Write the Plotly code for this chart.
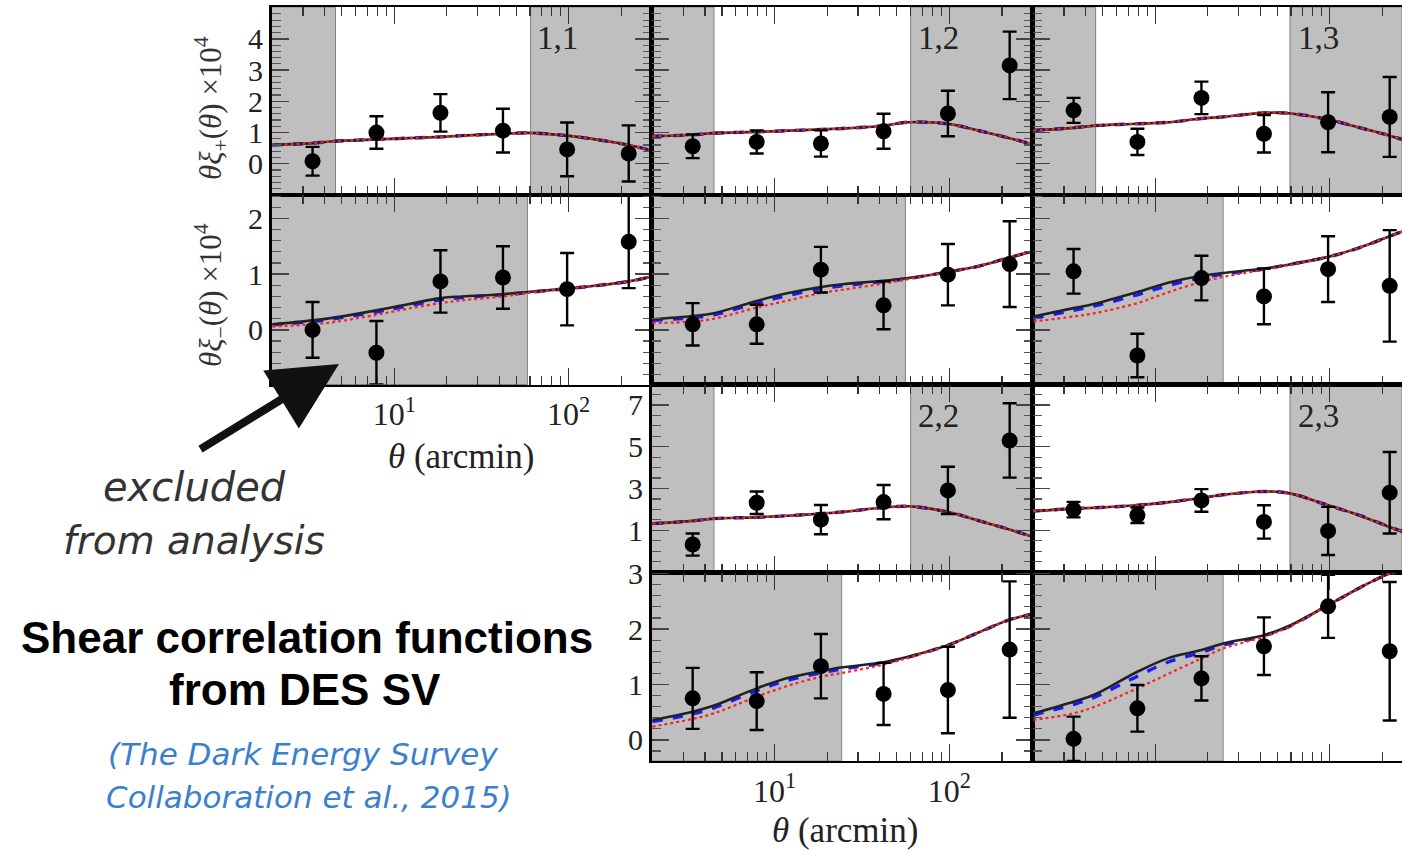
import math
import plotly.graph_objects as go

W, H = 1402, 851

# ---------------- data (theta * xi x 1e4) ----------------
theta = [3.4, 7.9, 18.4, 42.0, 98.0, 221.0]
theta_model = [2.0, 3.4, 4.5, 7.9, 12.0, 18.4, 24.5, 42.0, 58.0, 98.0, 150.0, 221.0, 310.0]

# xi_plus measurements
xip_11 = [0.08, 1.00, 1.63, 1.06, 0.46, 0.33]
xip_11_err = [0.46, 0.52, 0.60, 0.70, 0.86, 0.90]
xip_12 = [0.56, 0.70, 0.65, 1.04, 1.61, 3.15]
xip_12_err = [0.38, 0.37, 0.42, 0.56, 0.73, 1.08]
xip_13 = [1.71, 0.70, 2.11, 0.96, 1.33, 1.50]
xip_13_err = [0.40, 0.42, 0.52, 0.60, 0.96, 1.28]
xip_22 = [0.32, 2.32, 1.51, 2.35, 2.91, 5.30]
xip_22_err = [0.53, 0.54, 0.70, 0.82, 1.13, 1.78]
xip_23 = [1.99, 1.72, 2.43, 1.40, 0.97, 2.80]
xip_23_err = [0.37, 0.37, 0.54, 0.80, 1.15, 1.95]

# xi_minus measurements
xim_11 = [0.00, -0.41, 0.87, 0.94, 0.73, 1.58]
xim_11_err = [0.50, 0.57, 0.56, 0.56, 0.65, 0.83]
xim_12 = [0.10, 0.10, 1.08, 0.44, 0.99, 1.18]
xim_12_err = [0.38, 0.35, 0.41, 0.43, 0.55, 0.77]
xim_13 = [1.05, -0.46, 0.93, 0.60, 1.09, 0.79]
xim_13_err = [0.40, 0.39, 0.40, 0.50, 0.59, 1.00]
xim_22 = [0.75, 0.70, 1.33, 0.83, 0.90, 1.63]
xim_22_err = [0.55, 0.52, 0.58, 0.56, 0.78, 1.23]
xim_23 = [0.02, 0.57, 1.11, 1.69, 2.41, 1.60]
xim_23_err = [0.40, 0.42, 0.40, 0.52, 0.57, 1.25]

# model curves: xi_plus (black, blue and red nearly identical)
mp_11 = [0.60, 0.66, 0.72, 0.78, 0.82, 0.86, 0.90, 0.96, 0.99, 0.90, 0.76, 0.60, 0.40]
mp_12 = [0.88, 0.93, 0.98, 1.02, 1.06, 1.10, 1.13, 1.22, 1.33, 1.28, 1.05, 0.82, 0.60]
mp_13 = [1.07, 1.15, 1.22, 1.28, 1.33, 1.45, 1.50, 1.63, 1.62, 1.42, 1.15, 0.90, 0.65]
mp_22 = [1.32, 1.45, 1.56, 1.62, 1.70, 1.80, 1.88, 2.09, 2.15, 1.88, 1.44, 1.04, 0.65]
mp_23 = [1.92, 2.04, 2.08, 2.20, 2.35, 2.55, 2.70, 2.86, 2.78, 2.20, 1.70, 1.16, 0.72]

# model curves: xi_minus, black solid
mm_11 = [0.10, 0.17, 0.22, 0.35, 0.46, 0.57, 0.60, 0.64, 0.68, 0.74, 0.80, 0.87, 0.97]
mm_12 = [0.19, 0.25, 0.30, 0.52, 0.66, 0.77, 0.82, 0.88, 0.93, 1.04, 1.15, 1.30, 1.42]
mm_13 = [0.24, 0.39, 0.47, 0.68, 0.85, 0.97, 1.02, 1.10, 1.17, 1.31, 1.48, 1.68, 1.85]
mm_22 = [0.36, 0.51, 0.62, 0.93, 1.12, 1.24, 1.31, 1.40, 1.50, 1.71, 1.95, 2.17, 2.28]
mm_23 = [0.48, 0.69, 0.82, 1.23, 1.48, 1.62, 1.74, 1.89, 2.05, 2.43, 2.75, 3.00, 3.10]
# xi_minus, blue dashed
bm_11 = [0.09, 0.15, 0.20, 0.32, 0.43, 0.54, 0.58, 0.63, 0.67, 0.74, 0.80, 0.87, 0.97]
bm_12 = [0.17, 0.22, 0.27, 0.48, 0.62, 0.74, 0.79, 0.87, 0.92, 1.04, 1.15, 1.30, 1.42]
bm_13 = [0.21, 0.35, 0.43, 0.63, 0.80, 0.94, 1.00, 1.09, 1.17, 1.31, 1.48, 1.68, 1.85]
bm_22 = [0.33, 0.47, 0.58, 0.89, 1.08, 1.21, 1.28, 1.39, 1.49, 1.71, 1.95, 2.17, 2.28]
bm_23 = [0.45, 0.64, 0.77, 1.15, 1.41, 1.58, 1.71, 1.88, 2.04, 2.43, 2.75, 3.00, 3.10]
# xi_minus, red dotted
rm_11 = [0.06, 0.10, 0.14, 0.27, 0.38, 0.48, 0.53, 0.60, 0.66, 0.74, 0.80, 0.87, 0.97]
rm_12 = [0.12, 0.15, 0.20, 0.40, 0.53, 0.66, 0.72, 0.83, 0.91, 1.04, 1.15, 1.30, 1.42]
rm_13 = [0.15, 0.24, 0.30, 0.48, 0.68, 0.86, 0.95, 1.08, 1.16, 1.31, 1.48, 1.68, 1.85]
rm_22 = [0.24, 0.38, 0.48, 0.78, 0.98, 1.14, 1.21, 1.36, 1.48, 1.71, 1.95, 2.17, 2.28]
rm_23 = [0.36, 0.48, 0.60, 0.93, 1.20, 1.47, 1.65, 1.86, 2.03, 2.43, 2.75, 3.00, 3.10]

# excluded angular ranges (arcmin): below cut_lo and above cut_hi
cut_lo = {"p11": 4.6, "p12": 4.5, "p13": 4.55, "p22": 4.5, "p23": None,
          "m11": 58.0, "m12": 56.0, "m13": 24.5, "m22": 24.2, "m23": 24.5}
cut_hi = {"p11": 60.5, "p12": 60.0, "p13": 59.2, "p22": 60.0, "p23": 59.2,
          "m11": None, "m12": None, "m13": None, "m22": None, "m23": None}

bin_labels = {"p11": "1,1", "p12": "1,2", "p13": "1,3", "p22": "2,2", "p23": "2,3"}

x_major = [10, 100]
x_major_text = ["10<sup>1</sup>", "10<sup>2</sup>"]
x_minor = [2, 3, 4, 5, 6, 7, 8, 9, 20, 30, 40, 50, 60, 70, 80, 90, 200, 300]

row_ticks = [[0, 1, 2, 3, 4], [0, 1, 2], [1, 3, 5, 7], [0, 1, 2, 3]]

# ---------------- layout geometry (pixels) ----------------
col_px = [(271.5, 651.5), (651.5, 1032.5), (1032.5, 1402.0)]
row_px = [(7.0, 195.0), (195.0, 384.5), (384.5, 572.5), (572.5, 761.0)]
col_xrange = [[0.296, 2.475], [0.296, 2.475], [0.296, 2.415]]
row_yrange = [[-1.0, 5.02], [-0.98, 2.42], [-1.02, 7.98], [-0.38, 3.02]]
row_minor = [0.2, 0.2, 0.5, 0.2]

panels = [
    ("p11", 0, 0, xip_11, xip_11_err, mp_11, mp_11, mp_11),
    ("p12", 0, 1, xip_12, xip_12_err, mp_12, mp_12, mp_12),
    ("p13", 0, 2, xip_13, xip_13_err, mp_13, mp_13, mp_13),
    ("m11", 1, 0, xim_11, xim_11_err, mm_11, bm_11, rm_11),
    ("m12", 1, 1, xim_12, xim_12_err, mm_12, bm_12, rm_12),
    ("m13", 1, 2, xim_13, xim_13_err, mm_13, bm_13, rm_13),
    ("p22", 2, 1, xip_22, xip_22_err, mp_22, mp_22, mp_22),
    ("p23", 2, 2, xip_23, xip_23_err, mp_23, mp_23, mp_23),
    ("m22", 3, 1, xim_22, xim_22_err, mm_22, bm_22, rm_22),
    ("m23", 3, 2, xim_23, xim_23_err, mm_23, bm_23, rm_23),
]

SERIF = "Liberation Serif"
fig = go.Figure()
layout = dict(
    width=W, height=H, margin=dict(l=0, r=0, t=0, b=0, pad=0, autoexpand=False),
    paper_bgcolor="white", plot_bgcolor="white", showlegend=False,
)
shapes = []
annotations = []


def px2paper(x, y):
    return x / W, 1 - y / H


for i, (key, r, c, yv, ev, blk, blu, red) in enumerate(panels, start=1):
    suffix = "" if i == 1 else str(i)
    xa, ya = "x" + suffix, "y" + suffix
    xname, yname = "xaxis" + suffix, "yaxis" + suffix
    x0p, x1p = col_px[c]
    y0p, y1p = row_px[r]
    show_x_labels = (key == "m11") or (key == "m22")
    show_y_labels = (c == 0) or (r >= 2 and c == 1)
    layout[xname] = dict(
        type="log", domain=[x0p / W, x1p / W], range=col_xrange[c], anchor=ya,
        showgrid=False, zeroline=False, showline=True, linecolor="black", linewidth=2.4,
        mirror="allticks", ticks="inside", ticklen=17, tickwidth=1.3, tickcolor="#333",
        tickmode="array", tickvals=x_major, ticktext=x_major_text,
        showticklabels=show_x_labels,
        tickfont=dict(family=SERIF, size=32, color="#222"),
        minor=dict(tickmode="array", tickvals=x_minor, ticks="inside", ticklen=9,
                   tickwidth=1.2, tickcolor="#333", showgrid=False),
    )
    layout[yname] = dict(
        domain=[1 - y1p / H, 1 - y0p / H], range=row_yrange[r], anchor=xa,
        showgrid=False, zeroline=False, showline=True, linecolor="black", linewidth=2.4,
        mirror=("allticks" if c < 2 else False), ticks="inside", ticklen=17,
        tickwidth=1.3, tickcolor="#444",
        tickmode="array", tickvals=row_ticks[r], showticklabels=show_y_labels,
        tickfont=dict(family=SERIF, size=30, color="#222"),
        minor=dict(tickmode="linear", tick0=0, dtick=row_minor[r], ticks="inside",
                   ticklen=9, tickwidth=1.2, tickcolor="#555", showgrid=False),
    )
    # excluded-scale shading (shape x positions given in data units)
    lo, hi = cut_lo[key], cut_hi[key]
    xr = col_xrange[c]
    if lo is not None:
        shapes.append(dict(type="rect", xref=xa, yref=f"{ya} domain", layer="below",
                           x0=10 ** xr[0], x1=lo, y0=0, y1=1,
                           fillcolor="#bfbfbf", line=dict(color="#808080", width=1)))
    if hi is not None:
        shapes.append(dict(type="rect", xref=xa, yref=f"{ya} domain", layer="below",
                           x0=hi, x1=10 ** xr[1], y0=0, y1=1,
                           fillcolor="#bfbfbf", line=dict(color="#808080", width=1)))
    # model curves
    fig.add_trace(go.Scatter(x=theta_model, y=blu, xaxis=xa, yaxis=ya, mode="lines",
                             line=dict(color="#1a1aff", width=3.4, dash="dash", shape="spline"),
                             hoverinfo="skip"))
    fig.add_trace(go.Scatter(x=theta_model, y=blk, xaxis=xa, yaxis=ya, mode="lines",
                             line=dict(color="#222222", width=2.6, shape="spline"),
                             hoverinfo="skip"))
    fig.add_trace(go.Scatter(x=theta_model, y=red, xaxis=xa, yaxis=ya, mode="lines",
                             line=dict(color="#ff2020", width=2.2, dash="dot", shape="spline"),
                             hoverinfo="skip"))
    # measurements
    fig.add_trace(go.Scatter(x=theta, y=yv, xaxis=xa, yaxis=ya, mode="markers",
                             marker=dict(color="black", size=16),
                             error_y=dict(type="data", array=ev, color="black",
                                          thickness=2.4, width=7),
                             cliponaxis=True))
    if key in bin_labels:
        lx = x1p - 94 if c < 2 else 1318
        ly = y0p + 31
        ax_, ay_ = px2paper(lx, ly)
        annotations.append(dict(x=ax_, y=ay_, xref="paper", yref="paper",
                                text=bin_labels[key], showarrow=False,
                                font=dict(family=SERIF, size=33, color="#222"),
                                xanchor="center", yanchor="middle"))


def add_text(x, y, text, size, family, color="#111", angle=0, style="normal", weight="normal"):
    px_, py_ = px2paper(x, y)
    annotations.append(dict(x=px_, y=py_, xref="paper", yref="paper", text=text,
                            showarrow=False, textangle=angle, xanchor="center",
                            yanchor="middle",
                            font=dict(family=family, size=size, color=color,
                                      style=style, weight=weight)))


# axis titles
add_text(211, 108, "<i>θξ</i><sub>+</sub>(<i>θ</i>) ×10<sup>4</sup>", 31, SERIF, "#333", angle=-90)
add_text(211, 295, "<i>θξ</i><sub>−</sub>(<i>θ</i>) ×10<sup>4</sup>", 31, SERIF, "#333", angle=-90)
add_text(461, 457, "<i>θ</i> (arcmin)", 35, SERIF, "#222")
add_text(845, 830, "<i>θ</i> (arcmin)", 35, SERIF, "#222")

# side texts
SANS_LIGHT = "DejaVu Sans"
add_text(194, 487, "excluded", 40, SANS_LIGHT, "#333", style="italic", weight=200)
add_text(194, 540, "from analysis", 39, SANS_LIGHT, "#333", style="italic", weight=200)
add_text(307, 637, "Shear correlation functions", 44, "Liberation Sans", "#000", weight="bold")
add_text(305, 689, "from DES SV", 44, "Liberation Sans", "#000", weight="bold")
add_text(303, 754, "(The Dark Energy Survey", 31, SANS_LIGHT, "#3a80cc", style="italic", weight=200)
add_text(309, 797, "Collaboration et al., 2015)", 31, SANS_LIGHT, "#3a80cc", style="italic", weight=200)

# arrow pointing at the excluded region
tip_x, tip_y = px2paper(339, 364)
annotations.append(dict(x=tip_x, y=tip_y, xref="paper", yref="paper", text="",
                        showarrow=True, ax=-140, ay=86, axref="pixel", ayref="pixel",
                        arrowhead=2, arrowsize=1.7, arrowwidth=8, arrowcolor="#111"))

layout["shapes"] = shapes
layout["annotations"] = annotations
fig.update_layout(**layout)
fig.write_html("out.html", config={"displayModeBar": False, "staticPlot": True},
               post_script="document.body.style.margin='0px';document.body.style.overflow='hidden';")
